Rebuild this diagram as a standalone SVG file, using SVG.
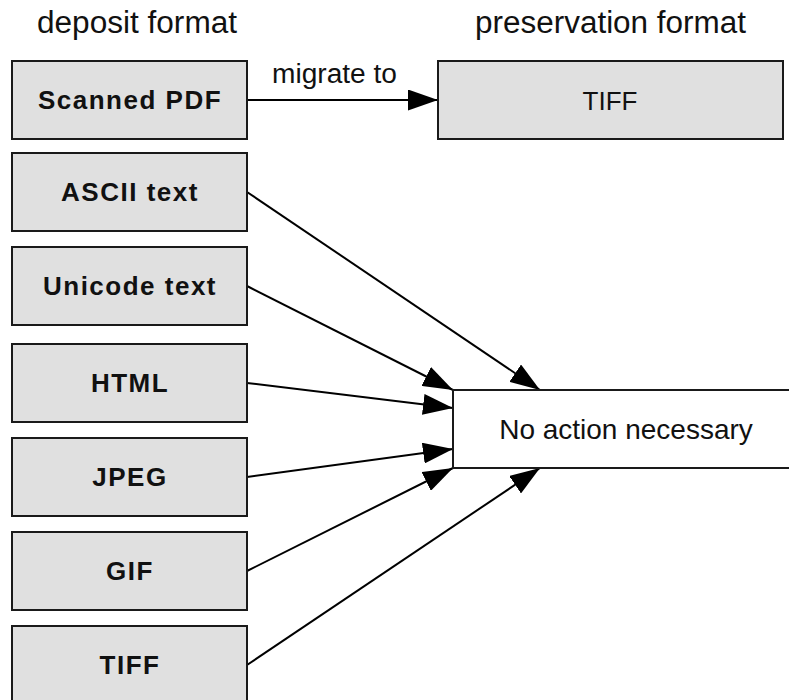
<svg xmlns="http://www.w3.org/2000/svg" width="789" height="700" viewBox="0 0 789 700">
<style>
.box{fill:#e0e0e0;stroke:#1a1a1a;stroke-width:2}
.wbox{fill:#ffffff;stroke:#1a1a1a;stroke-width:2}
.lbl{font-family:"Liberation Sans",Arial,sans-serif;font-size:26px;font-weight:bold;fill:#111;text-anchor:middle;letter-spacing:1.5px}
.reg{font-family:"Liberation Sans",Arial,sans-serif;font-size:27px;fill:#111;text-anchor:middle}
.hdr{font-family:"Liberation Sans Narrow","Liberation Sans",Arial,sans-serif;font-size:31px;fill:#111}
.edge{stroke:#000;stroke-width:2;fill:none;marker-end:url(#arr)}
</style>
<defs>
<marker id="arr" markerUnits="userSpaceOnUse" markerWidth="30" markerHeight="21" refX="30" refY="10.5" orient="auto">
<path d="M0,0 L30,10.5 L0,21 z" fill="#000"/>
</marker>
</defs>
<g id="headers">
<text class="hdr" x="37" y="33" textLength="200" lengthAdjust="spacingAndGlyphs">deposit format</text>
<text class="hdr" x="475" y="33" textLength="271" lengthAdjust="spacingAndGlyphs">preservation format</text>
</g>
<g id="connectors">
<line class="edge" x1="247" y1="100" x2="438" y2="100"/>
<text class="hdr" x="272" y="83" textLength="125" lengthAdjust="spacingAndGlyphs" style="font-size:27px">migrate to</text>
<line class="edge" x1="247" y1="192" x2="540" y2="390"/>
<line class="edge" x1="247" y1="286" x2="453" y2="390"/>
<line class="edge" x1="247" y1="383" x2="453" y2="408"/>
<line class="edge" x1="247" y1="477" x2="453" y2="449"/>
<line class="edge" x1="247" y1="571" x2="453" y2="468"/>
<line class="edge" x1="247" y1="665" x2="540" y2="468"/>
</g>
<g id="scanned-pdf"><rect class="box" x="12" y="61" width="235" height="78"/><text class="lbl" x="130" y="109">Scanned PDF</text></g>
<g id="tiff-preservation"><rect class="box" x="438" y="61" width="345" height="78"/><text class="reg" x="610" y="110" style="font-size:26px">TIFF</text></g>
<g id="ascii"><rect class="box" x="12" y="153" width="235" height="78"/><text class="lbl" x="130" y="201">ASCII text</text></g>
<g id="unicode"><rect class="box" x="12" y="247" width="235" height="78"/><text class="lbl" x="130" y="295">Unicode text</text></g>
<g id="html"><rect class="box" x="12" y="344" width="235" height="78"/><text class="lbl" x="130" y="392">HTML</text></g>
<g id="jpeg"><rect class="box" x="12" y="438" width="235" height="78"/><text class="lbl" x="130" y="486">JPEG</text></g>
<g id="gif"><rect class="box" x="12" y="532" width="235" height="78"/><text class="lbl" x="130" y="580">GIF</text></g>
<g id="tiff-deposit"><rect class="box" x="12" y="626" width="235" height="90"/><text class="lbl" x="130" y="674">TIFF</text></g>
<g id="no-action"><rect class="wbox" x="453" y="390" width="350" height="78"/><text class="reg" x="626" y="439" style="font-size:28px">No action necessary</text></g>
</svg>
